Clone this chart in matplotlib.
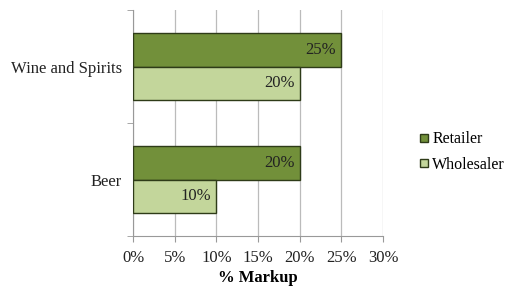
import matplotlib
matplotlib.use("Agg")
import matplotlib.pyplot as plt
from matplotlib.lines import Line2D
import numpy as np

categories = ["Beer", "Wine and Spirits"]
retailer = [20, 25]
wholesaler = [10, 20]
series_names = ["Retailer", "Wholesaler"]
xticks = [0, 5, 10, 15, 20, 25, 30]

plt.rcParams['font.family'] = ['Liberation Serif', 'DejaVu Serif']

fig = plt.figure(figsize=(5.09, 2.86), dpi=100)
ax = fig.add_axes([0.2613, 0.1748, 0.4912, 0.79])

c_ret = "#72903A"
c_whole = "#C3D69B"
edge = "#2E3B18"
fs = 12
h = 0.295
y = np.arange(len(categories))
b1 = ax.barh(y + h/2, retailer, height=h, color=c_ret, edgecolor=edge, linewidth=1.0, zorder=3)
b2 = ax.barh(y - h/2, wholesaler, height=h, color=c_whole, edgecolor=edge, linewidth=1.0, zorder=3)

for bars, vals in ((b1, retailer), (b2, wholesaler)):
    for bar, v in zip(bars, vals):
        ax.text(v - 0.6, bar.get_y() + bar.get_height()/2, f"{v}%", ha="right", va="center",
                fontsize=fs, color="#222222", zorder=4)

ax.set_xlim(0, 30)
ax.set_ylim(-0.5, 1.5)
ax.set_xticks(xticks)
ax.set_xticklabels([f"{t}%" for t in xticks], fontsize=fs, color="#222222")
ax.set_yticks(y)
ax.set_yticklabels(categories, fontsize=fs, color="#222222")
ax.tick_params(axis="y", length=0, pad=8)
ax.set_yticks([-0.5, 0.5, 1.5], minor=True)
ax.tick_params(axis="y", which="minor", length=4, color="#999999")
ax.tick_params(axis="x", length=4, color="#999999", pad=6)
ax.grid(axis="x", color="#BBBBBB", linewidth=0.9, zorder=0)
ax.set_axisbelow(True)
for s in ("top", "right"):
    ax.spines[s].set_visible(False)
for s in ("left", "bottom"):
    ax.spines[s].set_color("#999999")
ax.set_xlabel("% Markup", fontsize=fs, fontweight="bold", labelpad=3)

handles = [Line2D([], [], marker="s", linestyle="none", markersize=6, markerfacecolor=c,
                  markeredgecolor=edge) for c in (c_ret, c_whole)]
fig.legend(handles, series_names, loc="center left", bbox_to_anchor=(0.818, 0.468),
           frameon=False, fontsize=11.5, handletextpad=0.1, labelspacing=0.6, handlelength=0.9,
           borderaxespad=0, borderpad=0)

fig.savefig("out.png", dpi=100)
